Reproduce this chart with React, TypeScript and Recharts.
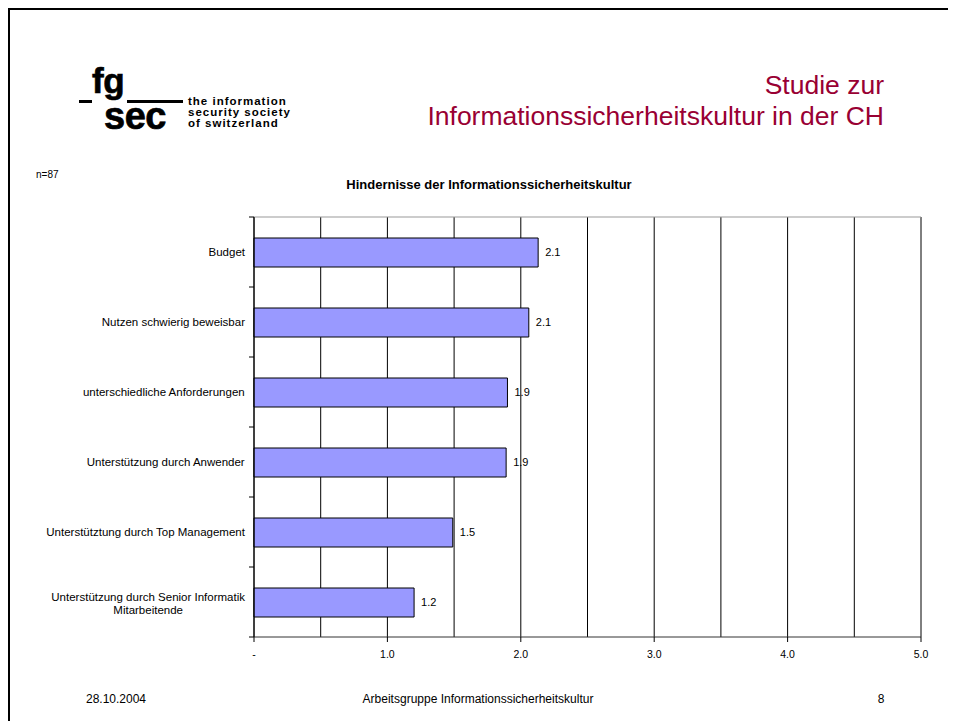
import React from 'react';
import { BarChart, Bar, XAxis, YAxis, CartesianGrid, LabelList } from 'recharts';

const categories = [
  'Budget',
  'Nutzen schwierig beweisbar',
  'unterschiedliche Anforderungen',
  'Unterstützung durch Anwender',
  'Unterstütztung durch Top Management',
  'Unterstützung durch Senior Informatik\nMitarbeitende',
];
const values = [2.13, 2.06, 1.9, 1.89, 1.49, 1.2];
const gridTicks = [0, 0.5, 1, 1.5, 2, 2.5, 3, 3.5, 4, 4.5, 5];

const FONT = '"Liberation Sans", Arial, sans-serif';
const BAR_FILL = '#9999FF';
const TITLE_RED = '#990033';

const CHART_W = 940;
const CHART_H = 470;
const PLOT_H = 420;
const BAND = PLOT_H / categories.length;

const data = categories.map((name, i) => ({ name, value: values[i] }));

// page coords -> container coords (body margin is 8px)
const pg = (v: number) => v - 8;

let measureCtx: CanvasRenderingContext2D | null = null;
function textWidth(s: string, font: string) {
  if (!measureCtx) measureCtx = document.createElement('canvas').getContext('2d');
  if (!measureCtx) return s.length * 5.8;
  measureCtx.font = font;
  return measureCtx.measureText(s).width;
}

function CategoryTick(props: any) {
  const { x, y, payload, index } = props;
  const axisX = x + 8;
  const lines = String(payload.value).split('\n');
  const font = `11.5px ${FONT}`;
  const widest = Math.max(...lines.map((l) => textWidth(l, font)));
  const cx = axisX - 9 - widest / 2;
  const y0 = y + 4 - (lines.length - 1) * 5;
  return (
    <g>
      <line x1={axisX - 5} x2={axisX} y1={y - BAND / 2} y2={y - BAND / 2} stroke="#000" />
      {index === categories.length - 1 && (
        <line x1={axisX - 5} x2={axisX} y1={y + BAND / 2} y2={y + BAND / 2} stroke="#000" />
      )}
      <text textAnchor="middle" fontSize={11.5} fontFamily={FONT} fill="#000">
        {lines.map((l, i) => (
          <tspan key={i} x={cx} y={y0 + i * 13}>
            {l}
          </tspan>
        ))}
      </text>
    </g>
  );
}

function ValueTick(props: any) {
  const { x, y, payload } = props;
  const v = Number(payload.value);
  const axisY = y - 8;
  if (v % 1 !== 0) return <g />;
  return (
    <g>
      <line x1={x} x2={x} y1={axisY} y2={axisY + 5} stroke="#000" />
      <text x={x} y={axisY + 21} textAnchor="middle" fontSize={10.5} fontFamily={FONT} fill="#000">
        {v === 0 ? '-' : v.toFixed(1)}
      </text>
    </g>
  );
}

function Logo() {
  // the fg/sec mark as one block so the two words share a single text box
  return (
    <>
      <div
        style={{
          position: 'absolute',
          left: pg(92),
          top: pg(65.5),
          fontWeight: 700,
          letterSpacing: -0.5,
          WebkitTextStroke: '0.7px #000',
          lineHeight: '29px',
          whiteSpace: 'pre',
        }}
      >
        <span style={{ fontSize: 35 }}>fg</span>
        {'\n'}
        <span style={{ fontSize: 38, marginLeft: 12 }}>sec</span>
      </div>
      <div style={{ position: 'absolute', left: pg(79), top: pg(99.5), width: 13, height: 3, background: '#000' }} />
      <div style={{ position: 'absolute', left: pg(127), top: pg(99.5), width: 56, height: 3, background: '#000' }} />
      <div style={{ position: 'absolute', left: pg(188), top: pg(95.5), fontSize: 11.5, lineHeight: '11px', fontWeight: 700, letterSpacing: 1 }}>
        the information
        <br />
        security society
        <br />
        of switzerland
      </div>
    </>
  );
}

export default function App() {
  return (
    <div style={{ position: 'relative', width: 948, height: 713, overflow: 'hidden', fontFamily: FONT, color: '#000', background: '#fff' }}>
      <div style={{ position: 'absolute', left: 0, top: 0, width: 1000, height: 800, borderTop: '2px solid #000', borderLeft: '2px solid #000' }} />
      <Logo />
      <div style={{ position: 'absolute', right: 948 - pg(884), top: pg(70.3), fontSize: 26.5, lineHeight: '31px', color: TITLE_RED, textAlign: 'right', whiteSpace: 'nowrap' }}>
        Studie zur
        <br />
        Informationssicherheitskultur in der CH
      </div>
      <div style={{ position: 'absolute', left: pg(36), top: pg(169), fontSize: 10, lineHeight: '12px' }}>n=87</div>
      <div style={{ position: 'absolute', left: pg(239), top: pg(178), width: 500, textAlign: 'center', fontSize: 13, lineHeight: '14px', fontWeight: 700 }}>
        Hindernisse der Informationssicherheitskultur
      </div>
      <div style={{ position: 'absolute', left: pg(10), top: pg(200) }}>
        <BarChart width={CHART_W} height={CHART_H} data={data} layout="vertical" margin={{ top: 17, right: 29, bottom: 3, left: 0 }}>
          <CartesianGrid horizontal={false} stroke="#000" strokeWidth={1} />
          <CartesianGrid
            vertical={false}
            stroke="#999"
            strokeWidth={1}
            horizontalCoordinatesGenerator={({ offset }: any) => [offset.top]}
          />
          <XAxis
            type="number"
            domain={[0, 5]}
            ticks={gridTicks}
            interval={0}
            height={30}
            axisLine={{ stroke: '#333' }}
            tickLine={false}
            tick={<ValueTick />}
          />
          <YAxis
            type="category"
            dataKey="name"
            width={244}
            interval={0}
            axisLine={{ stroke: '#000' }}
            tickLine={false}
            tick={<CategoryTick />}
          />
          <Bar dataKey="value" fill={BAR_FILL} stroke="#000" strokeWidth={1} barSize={29} isAnimationActive={false}>
            <LabelList
              dataKey="value"
              position="right"
              offset={7}
              formatter={(v: any) => Number(v).toFixed(1)}
              fill="#000"
              fontSize={11}
              fontFamily={FONT}
            />
          </Bar>
        </BarChart>
      </div>
      <div style={{ position: 'absolute', left: pg(116) - 100, top: pg(692), width: 200, textAlign: 'center', fontSize: 12, lineHeight: '14px' }}>
        28.10.2004
      </div>
      <div style={{ position: 'absolute', left: pg(478) - 200, top: pg(692), width: 400, textAlign: 'center', fontSize: 12, lineHeight: '14px' }}>
        Arbeitsgruppe Informationssicherheitskultur
      </div>
      <div style={{ position: 'absolute', left: pg(881) - 50, top: pg(692), width: 100, textAlign: 'center', fontSize: 12, lineHeight: '14px' }}>
        8
      </div>
    </div>
  );
}
